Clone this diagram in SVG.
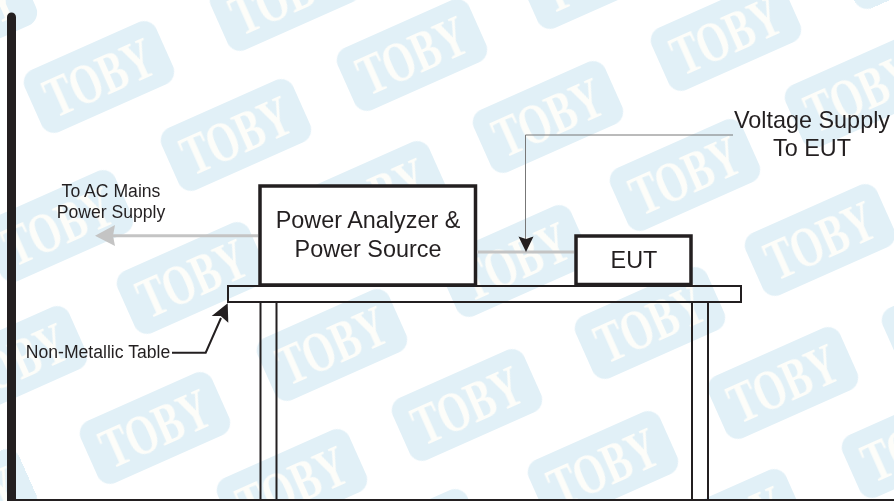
<svg xmlns="http://www.w3.org/2000/svg" width="894" height="501" viewBox="0 0 894 501">
<style>
.s{fill:#e1f0f7}
.w{font-family:"Liberation Serif",serif;font-weight:bold;font-size:58px;fill:#fdfdf9;text-anchor:middle}
.t{font-family:"Liberation Sans",Arial,sans-serif;fill:#231f20;text-anchor:middle}
.l{font-size:23.400px}
.m{font-size:17.600px}
.b{fill:none;stroke:#231f20}
.f{fill:#fff;stroke:#231f20;stroke-width:3.500}
</style>
<defs>
<filter id="soft" x="0" y="0" width="100%" height="100%"><feGaussianBlur stdDeviation="0.7"/></filter>
<g id="st"><rect class="s" x="-72" y="-34" width="144" height="68" rx="14"/><text class="w" y="20" textLength="114" lengthAdjust="spacingAndGlyphs">TOBY</text></g>
</defs>
<rect width="894" height="501" fill="#fff"/>
<g id="watermark" filter="url(#soft)">
<use href="#st" transform="translate(-38 18) rotate(-24)"/>
<use href="#st" transform="translate(99 77) rotate(-24)"/>
<use href="#st" transform="translate(236 135) rotate(-24)"/>
<use href="#st" transform="translate(372 197) rotate(-24)"/>
<use href="#st" transform="translate(514 261) rotate(-24)"/>
<use href="#st" transform="translate(650 323) rotate(-24)"/>
<use href="#st" transform="translate(783 383) rotate(-24)"/>
<use href="#st" transform="translate(917 442) rotate(-24)"/>
<use href="#st" transform="translate(285 -5) rotate(-24)"/>
<use href="#st" transform="translate(412 55) rotate(-24)"/>
<use href="#st" transform="translate(548 117) rotate(-24)"/>
<use href="#st" transform="translate(685 175) rotate(-24)"/>
<use href="#st" transform="translate(820 240) rotate(-24)"/>
<use href="#st" transform="translate(957 315) rotate(-24)"/>
<use href="#st" transform="translate(595 -27) rotate(-24)"/>
<use href="#st" transform="translate(726 35) rotate(-24)"/>
<use href="#st" transform="translate(860 92) rotate(-24)"/>
<use href="#st" transform="translate(912 -47) rotate(-24)"/>
<use href="#st" transform="translate(58 226) rotate(-24)"/>
<use href="#st" transform="translate(192 278) rotate(-24)"/>
<use href="#st" transform="translate(332 345) rotate(-24)"/>
<use href="#st" transform="translate(467 405) rotate(-24)"/>
<use href="#st" transform="translate(603 467) rotate(-24)"/>
<use href="#st" transform="translate(729 525) rotate(-24)"/>
<use href="#st" transform="translate(12 362) rotate(-24)"/>
<use href="#st" transform="translate(155 428) rotate(-24)"/>
<use href="#st" transform="translate(292 485) rotate(-24)"/>
<use href="#st" transform="translate(410 545) rotate(-24)"/>
<use href="#st" transform="translate(-38 505) rotate(-24)"/>
</g>
<g id="wall"><path d="M7 499H894V501H7V17a4.500 4.500 0 0 1 9 0V499H7Z" fill="#231f20"/></g>
<g id="table"><rect class="b" x="228" y="286" width="513" height="16" stroke-width="2"/><path class="b" d="M260.500 302V499M276.500 302V499M692 302V499M708 302V499" stroke-width="2"/></g>
<g id="power"><rect class="f" x="260" y="186" width="215.500" height="99"/><text class="t l" x="368" y="228">Power Analyzer &amp;</text><text class="t l" x="368" y="257">Power Source</text></g>
<g id="eut"><rect class="f" x="576" y="236" width="115" height="48.500"/><text class="t l" x="634" y="267.500">EUT</text></g>
<g id="connectors">
<path d="M258 235.700H112" fill="none" stroke="#c4c4c4" stroke-width="3"/><path d="M95 235.700L115 225L113 235.700L115 246Z" fill="#c4c4c4"/>
<path d="M477 252H574" fill="none" stroke="#c4c4c4" stroke-width="3"/>
<path d="M733 135H525.500V240" fill="none" stroke="#777" stroke-width="1"/><path d="M526 252L518.500 236.500L526 239L533.500 236.500Z" fill="#231f20"/>
<path d="M172 352.700H205.700L221 318" fill="none" stroke="#231f20" stroke-width="2"/><path d="M227.700 303.300L211.700 316L220.700 316L228.300 322.700Z" fill="#231f20"/>
</g>
<g id="labels">
<text class="t m" x="111" y="197">To AC Mains</text><text class="t m" x="111" y="218">Power Supply</text>
<text class="t m" x="98" y="358">Non-Metallic Table</text>
<text class="t l" x="812" y="127.500">Voltage Supply</text><text class="t l" x="812" y="156">To EUT</text>
</g>
</svg>
